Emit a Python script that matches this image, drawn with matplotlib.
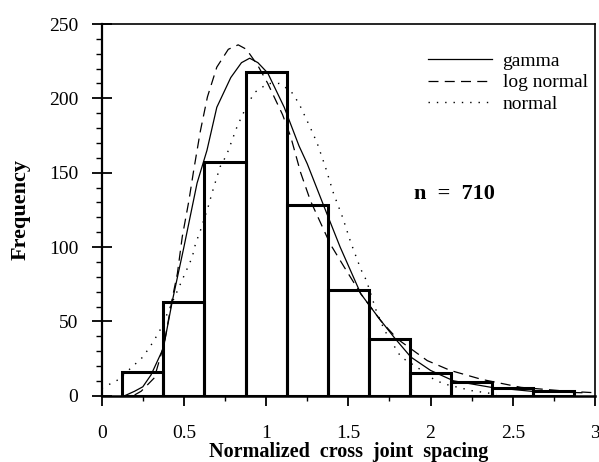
import numpy as np
import matplotlib
matplotlib.use('Agg')
import matplotlib.pyplot as plt
from matplotlib.ticker import MultipleLocator

plt.rcParams['font.family'] = ['Liberation Serif', 'DejaVu Serif']

# histogram (bin centres, counts)
bin_centers = [0.25, 0.5, 0.75, 1.0, 1.25, 1.5, 1.75, 2.0, 2.25, 2.5, 2.75]
counts = [16, 63, 157, 218, 128, 71, 38, 15, 9, 5, 3]
bin_width = 0.25

# fitted curves
gamma_x = [0.14, 0.20, 0.25, 0.30, 0.375, 0.43, 0.50, 0.58, 0.64, 0.70, 0.785, 0.85,
           0.90, 0.95, 1.01, 1.11, 1.20, 1.25, 1.353, 1.45, 1.576, 1.68, 1.78, 1.88,
           2.00, 2.14, 2.37, 2.61, 2.92]
gamma_y = [0, 3, 6, 14, 32, 64, 100, 143, 165, 194, 214, 224,
           227, 224, 217, 194, 168, 156, 127, 100, 68.5, 53, 39, 26,
           17, 10, 5.6, 3, 2]

lognorm_x = [0.20, 0.24, 0.32, 0.38, 0.43, 0.46, 0.49, 0.53, 0.56, 0.60, 0.643, 0.70,
             0.77, 0.83, 0.88, 0.95, 1.01, 1.10, 1.15, 1.21, 1.27, 1.39, 1.475, 1.576,
             1.70, 1.80, 1.98, 2.12, 2.31, 2.55, 2.83, 3.0]
lognorm_y = [0.5, 3, 12, 35, 66, 82, 107, 131, 152, 178, 201, 221,
             233, 236, 233, 222, 210, 189, 174, 150, 131, 102, 86.5, 68.5,
             50, 38, 23.6, 17, 11, 5.6, 3, 2]

normal_x = [0.0, 0.10, 0.25, 0.30, 0.35, 0.52, 0.55, 0.57, 0.60, 0.65, 0.67, 0.72,
            0.76, 0.79, 0.82, 0.85, 0.89, 0.93, 1.01, 1.08, 1.15, 1.20, 1.27, 1.31,
            1.36, 1.41, 1.465, 1.515, 1.576, 1.61, 1.67, 1.72, 1.82, 1.92, 2.02,
            2.08, 2.25, 2.4]
normal_y = [5, 10.7, 26, 34, 43, 85.5, 93, 102, 111, 128, 136, 154,
            162, 171, 180, 187.5, 196.5, 204, 210, 210, 205, 196.5, 180, 170,
            154, 136, 120, 103, 85, 77.5, 57, 44, 26, 19, 11,
            8, 3.4, 1]

fig = plt.figure(figsize=(5.99, 4.62), dpi=100)
ax = fig.add_axes([0.1698, 0.1435, 0.8235, 0.8045])

ax.bar(bin_centers, counts, width=bin_width, fill=False, edgecolor='black',
       linewidth=2.2, zorder=2)

ax.plot(gamma_x, gamma_y, color='black', lw=0.9, label='gamma', zorder=3)
ax.plot(lognorm_x, lognorm_y, color='black', lw=0.9, linestyle=(0, (8, 5)),
        label='log normal', zorder=3)
ax.plot(normal_x, normal_y, color='black', lw=1.0, linestyle=(0, (1, 5)),
        label='normal', zorder=3)

ax.set_xlim(0, 3)
ax.set_ylim(0, 250)
ax.xaxis.set_major_locator(MultipleLocator(0.5))
ax.xaxis.set_minor_locator(MultipleLocator(0.25))
ax.yaxis.set_major_locator(MultipleLocator(50))
ax.yaxis.set_minor_locator(MultipleLocator(10))
ax.xaxis.set_major_formatter(plt.FuncFormatter(lambda v, p: '%g' % v))

ax.tick_params(axis='y', which='major', direction='inout', length=14, width=1.3,
               labelsize=14, pad=10)
ax.tick_params(axis='y', which='minor', direction='out', length=4.5, width=1.0)
ax.tick_params(axis='x', which='major', direction='out', length=7, width=1.3,
               labelsize=14, pad=14)
ax.tick_params(axis='x', which='minor', direction='out', length=3.5, width=1.0)

for s in ax.spines.values():
    s.set_linewidth(1.2)
ax.spines['bottom'].set_linewidth(1.8)
ax.spines['left'].set_linewidth(1.6)

ax.set_xlabel('Normalized  cross  joint  spacing', fontsize=14.5, fontweight='bold',
              labelpad=0)
ax.set_ylabel('Frequency', fontsize=16, fontweight='bold', labelpad=13)

ax.text(1.90, 136, 'n  =  710', fontsize=16, fontweight='bold', va='center')

ax.legend(loc='upper right', bbox_to_anchor=(0.985, 0.925), frameon=False,
          fontsize=14, handlelength=3.3, handletextpad=0.55, labelspacing=0.22,
          borderpad=0, borderaxespad=0)

fig.savefig('out.png', dpi=100)
